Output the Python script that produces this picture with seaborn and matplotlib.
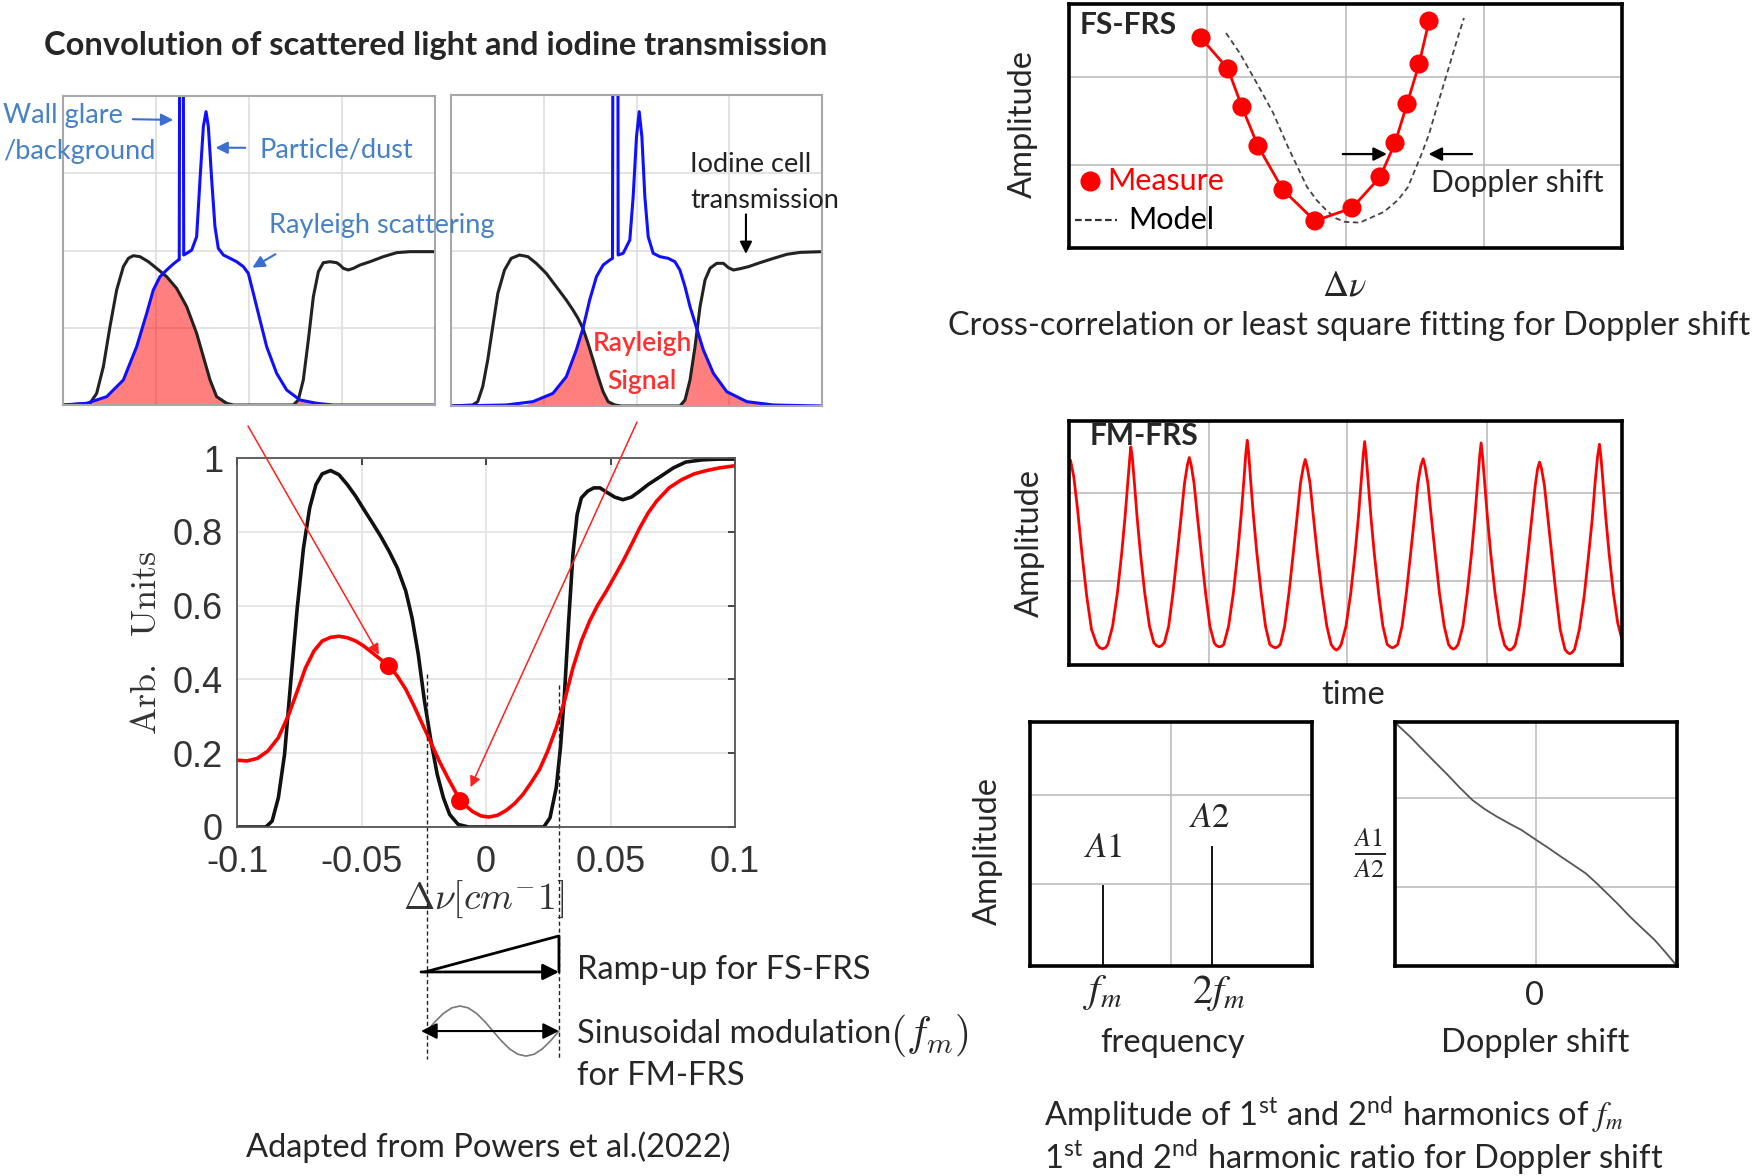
import numpy as np
import matplotlib
matplotlib.use('Agg')
import matplotlib.pyplot as plt
import seaborn as sns

# ---------------- data ----------------
# top-left panel (Rayleigh line centred left of the iodine notch), arbitrary units 0..4
p1_iod_x = [0.0, 0.022, 0.290, 0.362, 0.434, 0.505, 0.577, 0.649, 0.703, 0.756, 0.828, 0.918, 1.007,
            1.115, 1.222, 1.330, 1.437, 1.509, 1.581, 1.652, 1.760, 1.832, 2.477, 2.530, 2.584, 2.638,
            2.692, 2.746, 2.799, 2.871, 2.943, 2.978, 3.014, 3.068, 3.122, 3.194, 3.301, 3.444, 3.588,
            3.731, 4.0]
p1_iod_y = [0.0, 0.0, 0.022, 0.151, 0.496, 1.014, 1.489, 1.791, 1.899, 1.933, 1.920, 1.855, 1.769,
            1.661, 1.510, 1.273, 0.928, 0.626, 0.324, 0.108, 0.022, 0.0, 0.0, 0.065, 0.324, 0.841,
            1.402, 1.726, 1.842, 1.855, 1.842, 1.812, 1.769, 1.748, 1.769, 1.812, 1.855, 1.920, 1.972,
            1.985, 1.985]
p1_scat_x = [0.0, 0.254, 0.470, 0.649, 0.792, 0.900, 0.971, 1.043, 1.115, 1.186, 1.240, 1.250, 1.254,
             1.294, 1.298, 1.330, 1.384, 1.437, 1.473, 1.509, 1.538, 1.563, 1.599, 1.634, 1.670, 1.724,
             1.796, 1.867, 1.939, 1.993, 2.047, 2.118, 2.190, 2.297, 2.405, 2.548, 2.728, 2.907, 4.0]
p1_scat_y = [0.0, 0.022, 0.108, 0.324, 0.755, 1.187, 1.489, 1.661, 1.748, 1.825, 1.877, 1.880, 4.4,
             4.4, 1.942, 1.963, 2.006, 2.179, 2.913, 3.603, 3.797, 3.603, 2.913, 2.308, 2.028, 1.942,
             1.899, 1.855, 1.791, 1.704, 1.445, 1.100, 0.755, 0.410, 0.194, 0.065, 0.022, 0.0, 0.0]
p1_sig_x = [0.20, 0.254, 0.470, 0.649, 0.792, 0.900, 0.971, 1.043, 1.080, 1.222, 1.330, 1.437, 1.509,
            1.581, 1.652, 1.760, 1.900, 2.450, 2.530, 2.580, 2.650, 2.750, 2.850]
p1_sig_y = [0.0, 0.020, 0.100, 0.320, 0.750, 1.187, 1.489, 1.661, 1.700, 1.510, 1.273, 0.928, 0.626,
            0.324, 0.108, 0.022, 0.0, 0.0, 0.050, 0.060, 0.040, 0.020, 0.0]

# top-middle panel (Rayleigh line centred on the iodine notch)
p2_iod_x = [0.0, 0.234, 0.288, 0.342, 0.396, 0.450, 0.505, 0.577, 0.649, 0.739, 0.829, 0.919, 1.027,
            1.135, 1.243, 1.315, 1.369, 1.423, 1.477, 1.532, 1.586, 1.640, 1.694, 1.766, 1.838, 2.468,
            2.523, 2.577, 2.631, 2.685, 2.739, 2.793, 2.865, 2.937, 2.991, 3.045, 3.117, 3.207, 3.333,
            3.477, 3.622, 3.766, 4.0]
p2_iod_y = [0.0, 0.013, 0.056, 0.249, 0.592, 1.020, 1.449, 1.749, 1.899, 1.942, 1.921, 1.835, 1.706,
            1.535, 1.363, 1.235, 1.128, 0.999, 0.806, 0.592, 0.377, 0.184, 0.056, 0.013, 0.0, 0.0,
            0.077, 0.334, 0.763, 1.278, 1.621, 1.771, 1.835, 1.835, 1.779, 1.749, 1.766, 1.792, 1.844,
            1.899, 1.951, 1.976, 1.985]
p2_scat_x = [0.0, 0.595, 0.883, 1.099, 1.243, 1.351, 1.423, 1.495, 1.568, 1.640, 1.712, 1.741, 1.745,
             1.800, 1.802, 1.856, 1.928, 1.964, 2.000, 2.029, 2.058, 2.090, 2.126, 2.180, 2.252, 2.342,
             2.414, 2.468, 2.523, 2.577, 2.649, 2.721, 2.829, 2.973, 3.189, 3.477, 4.0]
p2_scat_y = [0.0, 0.013, 0.056, 0.163, 0.377, 0.720, 0.999, 1.363, 1.663, 1.813, 1.878, 1.899, 4.4,
             4.4, 1.942, 1.964, 2.135, 2.692, 3.464, 3.786, 3.464, 2.692, 2.178, 1.964, 1.921, 1.899,
             1.856, 1.749, 1.535, 1.278, 0.999, 0.720, 0.420, 0.184, 0.056, 0.013, 0.0]
p2_sig_left_x = [0.75, 0.883, 1.099, 1.243, 1.351, 1.423, 1.477, 1.532, 1.586, 1.640, 1.694, 1.766, 1.84]
p2_sig_left_y = [0.0, 0.050, 0.163, 0.377, 0.720, 0.999, 0.806, 0.592, 0.377, 0.184, 0.056, 0.013, 0.0]
p2_sig_right_x = [2.47, 2.523, 2.577, 2.631, 2.655, 2.721, 2.829, 2.973, 3.189, 3.477, 3.6]
p2_sig_right_y = [0.0, 0.077, 0.334, 0.763, 0.990, 0.720, 0.420, 0.184, 0.056, 0.013, 0.0]

# main panel: iodine transmission and convolved Rayleigh signal vs detuning [cm^-1]
nu_iod = [-0.100, -0.0884, -0.0859, -0.0834, -0.0809, -0.0784, -0.0758, -0.0733, -0.0708, -0.0683,
          -0.0658, -0.0624, -0.0591, -0.0557, -0.0523, -0.0490, -0.0456, -0.0423, -0.0389, -0.0356,
          -0.0322, -0.0297, -0.0272, -0.0247, -0.0221, -0.0196, -0.0171, -0.0146, -0.0112, -0.0070,
          0.0232, 0.0257, 0.0282, 0.0299, 0.0315, 0.0332, 0.0349, 0.0366, 0.0383, 0.0408,
          0.0433, 0.0458, 0.0483, 0.0517, 0.0550, 0.0584, 0.0617, 0.0651, 0.0701, 0.0752,
          0.0802, 0.0869, 0.0936, 0.100]
tr_iod = [0, 0, 0.016, 0.079, 0.197, 0.395, 0.594, 0.756, 0.865, 0.928,
          0.957, 0.966, 0.955, 0.928, 0.896, 0.860, 0.824, 0.788, 0.747, 0.702,
          0.639, 0.567, 0.468, 0.341, 0.233, 0.143, 0.079, 0.034, 0.007, 0,
          0, 0.025, 0.106, 0.215, 0.359, 0.558, 0.738, 0.847, 0.892, 0.910,
          0.919, 0.919, 0.908, 0.894, 0.887, 0.894, 0.910, 0.928, 0.950, 0.973,
          0.989, 0.995, 0.997, 0.997]
nu_conv = [-0.100, -0.0960, -0.0918, -0.0876, -0.0834, -0.0792, -0.0758, -0.0725, -0.0691, -0.0658,
           -0.0624, -0.0591, -0.0557, -0.0523, -0.0490, -0.0456, -0.0423, -0.0389, -0.0356, -0.0322,
           -0.0289, -0.0255, -0.0221, -0.0188, -0.0154, -0.0121, -0.0087, -0.0054, -0.0020, 0.0013,
           0.0047, 0.0081, 0.0114, 0.0148, 0.0181, 0.0215, 0.0248, 0.0282, 0.0315, 0.0349,
           0.0383, 0.0416, 0.0450, 0.0483, 0.0517, 0.0550, 0.0584, 0.0617, 0.0651, 0.0685,
           0.0735, 0.0785, 0.0836, 0.0886, 0.0936, 0.100]
sig_conv = [0.181, 0.179, 0.186, 0.206, 0.242, 0.305, 0.368, 0.431, 0.477, 0.504,
            0.514, 0.517, 0.513, 0.504, 0.490, 0.472, 0.454, 0.436, 0.409, 0.373,
            0.328, 0.278, 0.228, 0.179, 0.134, 0.093, 0.061, 0.042, 0.030, 0.027,
            0.032, 0.045, 0.063, 0.088, 0.120, 0.156, 0.206, 0.269, 0.341, 0.431,
            0.504, 0.558, 0.603, 0.639, 0.680, 0.720, 0.765, 0.810, 0.851, 0.883,
            0.919, 0.941, 0.957, 0.966, 0.973, 0.979]
dot_nu = [-0.039, -0.0104]
dot_sig = [0.436, 0.070]
scan_lo, scan_hi = -0.0237, 0.0293           # laser scan range (dashed lines)
sine_shape = [0, 0.383, 0.707, 0.924, 1, 0.924, 0.707, 0.383, 0,
              -0.383, -0.707, -0.924, -1, -0.924, -0.707, -0.383, 0]

# FS-FRS: measured points and model line
fs_meas_x = [0.955, 1.150, 1.251, 1.367, 1.548, 1.779, 2.047, 2.250, 2.358, 2.445, 2.532, 2.604]
fs_meas_y = [0.861, 0.734, 0.578, 0.418, 0.238, 0.111, 0.164, 0.291, 0.430, 0.590, 0.754, 0.930]
fs_model_x = [1.136, 1.236, 1.374, 1.478, 1.584, 1.722, 1.790, 1.859, 1.929, 1.996,
              2.103, 2.278, 2.380, 2.452, 2.553, 2.606, 2.655, 2.763, 2.814, 2.857]
fs_model_y = [0.881, 0.798, 0.660, 0.552, 0.414, 0.250, 0.197, 0.156, 0.122, 0.107,
              0.104, 0.148, 0.197, 0.250, 0.389, 0.470, 0.566, 0.770, 0.866, 0.943]

# FM-FRS time signal (arbitrary units)
fm_t = [148, 155, 163, 172, 182, 192, 203, 209, 215,
        221, 226, 236, 246, 255, 262, 268, 272, 274, 277, 281, 287, 294, 303, 313, 322, 328, 333,
        338, 344, 353, 362, 371, 379, 386, 392, 396, 400, 406, 413, 421, 430, 439, 448, 453, 458,
        463, 468, 478, 488, 497, 504, 510, 514, 517, 520, 524, 530, 537, 546, 555, 564, 570, 575,
        580, 586, 595, 604, 613, 621, 628, 634, 638, 642, 648, 655, 663, 673, 683, 692, 698, 703,
        708, 713, 723, 733, 742, 749, 755, 759, 762, 765, 769, 775, 782, 791, 800, 809, 815, 820,
        825, 831, 840, 849, 858, 866, 873, 879, 884, 888, 894, 901, 909, 918, 928, 937, 942, 947,
        952, 957, 967, 976, 985, 992, 998, 1002, 1005, 1008, 1012, 1018, 1025, 1034, 1044, 1054, 1060, 1065,
        1070, 1076, 1085, 1094, 1103, 1111, 1118, 1123, 1127, 1131, 1137, 1144, 1152, 1161, 1170, 1180, 1185, 1190,
        1195, 1200, 1210, 1220, 1229, 1237, 1243, 1248, 1252, 1255, 1259, 1265, 1272, 1281, 1290, 1298]
fm_a = [617, 567, 467, 337, 207, 107, 62, 52, 49,
        52, 62, 117, 217, 337, 447, 557, 627, 657, 627, 557, 447, 337, 217, 117, 67, 58, 55,
        58, 67, 117, 217, 337, 447, 547, 602, 625, 602, 547, 447, 337, 217, 117, 67, 58, 55,
        56, 62, 117, 217, 337, 447, 557, 637, 677, 637, 557, 447, 337, 217, 117, 62, 55, 52,
        54, 62, 117, 217, 337, 447, 547, 597, 619, 597, 547, 447, 337, 217, 117, 62, 50, 45,
        50, 62, 117, 217, 337, 447, 557, 632, 673, 632, 557, 447, 337, 217, 117, 62, 55, 52,
        55, 62, 117, 217, 337, 447, 547, 599, 621, 599, 547, 447, 337, 217, 117, 62, 52, 48,
        52, 62, 117, 217, 337, 447, 557, 629, 669, 629, 557, 447, 337, 217, 117, 60, 49, 45,
        49, 60, 117, 217, 337, 447, 542, 592, 611, 592, 542, 447, 337, 217, 107, 47, 38, 34,
        38, 47, 107, 207, 327, 442, 552, 627, 665, 627, 557, 447, 337, 217, 127, 82]

# harmonics spectrum and harmonic ratio
harm_x = [0.26, 0.647]
harm_amp = [0.33, 0.49]
harm_ticks = [r'$f_m$', r'$2f_m$']
ratio_x = [-1.0, -0.975, -0.888, -0.801, -0.714, -0.626, -0.539, -0.451, -0.364, -0.277, -0.190,
           -0.102, 0.003, 0.090, 0.177, 0.265, 0.352, 0.421, 0.491, 0.579, 0.667, 0.754, 0.841, 0.920, 1.0]
ratio_y = [1.0, 0.984, 0.937, 0.885, 0.834, 0.783, 0.730, 0.680, 0.643, 0.612, 0.584,
           0.557, 0.516, 0.483, 0.448, 0.414, 0.380, 0.344, 0.305, 0.255, 0.202, 0.154, 0.107, 0.055, 0.0]

# ---------------- figure ----------------
sns.set_theme(style='white')
plt.rcParams['font.family'] = ['Lato', 'DejaVu Sans']
plt.rcParams['mathtext.fontset'] = 'custom'
plt.rcParams['mathtext.rm'] = 'Lato'
plt.rcParams['mathtext.it'] = 'STIXGeneral:italic'
plt.rcParams['mathtext.bf'] = 'Lato:bold'

W, H = 1752, 1176
fig = plt.figure(figsize=(W / 100, H / 100), dpi=100)
fig.patch.set_facecolor('white')

BLUE_TXT = '#4681c6'
TXT = 23.5


def box_axes(x0, y0, x1, y1):
    return fig.add_axes([x0 / W, 1 - y1 / H, (x1 - x0) / W, (y1 - y0) / H])


def ftext(x, y, s, **kw):
    kw.setdefault('ha', 'left')
    kw.setdefault('va', 'center')
    return fig.text(x / W, 1 - y / H, s, **kw)


def frame(ax, xg, yg, edge, lw, gcol):
    ax.set_xticks(xg)
    ax.set_yticks(yg)
    ax.tick_params(length=0, labelbottom=False, labelleft=False)
    ax.grid(True, color=gcol, lw=1.2)
    ax.set_axisbelow(True)
    for s in ax.spines.values():
        s.set_visible(True)
        s.set_color(edge)
        s.set_linewidth(lw)


# --- top-left spectra ---
ax1 = box_axes(63, 96, 435, 405)
ax2 = box_axes(451, 95, 822, 406)
for ax, ix, iy, sx, sy in [(ax1, p1_iod_x, p1_iod_y, p1_scat_x, p1_scat_y),
                           (ax2, p2_iod_x, p2_iod_y, p2_scat_x, p2_scat_y)]:
    sns.lineplot(x=ix, y=iy, ax=ax, color='#222222', lw=2.2, sort=False, estimator=None)
    sns.lineplot(x=sx, y=sy, ax=ax, color='#1010ff', lw=2.2, sort=False, estimator=None)
    ax.set_xlim(0, 4)
    ax.set_ylim(0, 4)
    frame(ax, [1, 2, 3], [1, 2, 3], '#a8a8a8', 1.5, '#dedede')
ax1.fill_between(p1_sig_x, 0, p1_sig_y, color='red', alpha=0.5, lw=0)
ax2.fill_between(p2_sig_left_x, 0, p2_sig_left_y, color='red', alpha=0.5, lw=0)
ax2.fill_between(p2_sig_right_x, 0, p2_sig_right_y, color='red', alpha=0.5, lw=0)

blue_arrow = dict(arrowstyle='-|>', color='#3a6fd0', lw=1.5, mutation_scale=18)
ax1.annotate('', xy=(1.215, 3.69), xytext=(0.72, 3.70), arrowprops=blue_arrow, annotation_clip=False)
ax1.annotate('', xy=(1.61, 3.33), xytext=(1.99, 3.33), arrowprops=blue_arrow, annotation_clip=False)
ax1.annotate('', xy=(2.01, 1.76), xytext=(2.31, 1.97), arrowprops=blue_arrow, annotation_clip=False)
ax2.annotate('', xy=(3.18, 1.92), xytext=(3.18, 2.50),
             arrowprops=dict(arrowstyle='-|>', color='black', lw=1.5, mutation_scale=18))

ftext(436, 46, 'Convolution of scattered light and iodine transmission', ha='center',
      weight='bold', size=23.5)
ftext(3, 115, 'Wall glare', color=BLUE_TXT, size=19.5)
ftext(3, 151, '/background', color=BLUE_TXT, size=19.5)
ftext(259, 150, 'Particle/dust', color=BLUE_TXT, size=19.5)
ftext(269, 226, 'Rayleigh scattering', color=BLUE_TXT, size=19.5)
ftext(690, 165, 'Iodine cell', color='#222222', size=19.5)
ftext(690, 201, 'transmission', color='#222222', size=19.5)
ftext(642, 344, 'Rayleigh', ha='center', color='#ff3030', size=19, weight='semibold')
ftext(642, 381, 'Signal', ha='center', color='#ff3030', size=19, weight='semibold')

# --- main convolution panel ---
axm = box_axes(237, 458, 735, 827)
sns.lineplot(x=nu_iod, y=tr_iod, ax=axm, color='#111111', lw=2.6, sort=False, estimator=None)
sns.lineplot(x=nu_conv, y=sig_conv, ax=axm, color='#ff0000', lw=2.6, sort=False, estimator=None)
sns.scatterplot(x=dot_nu, y=dot_sig, ax=axm, color='#ff0000', s=170, edgecolor='none', zorder=5)
axm.set_xlim(-0.1, 0.1)
axm.set_ylim(0, 1)
axm.set_xticks([-0.1, -0.05, 0, 0.05, 0.1])
axm.set_xticklabels(['-0.1', '-0.05', '0', '0.05', '0.1'])
axm.set_yticks([0, 0.2, 0.4, 0.6, 0.8, 1])
axm.set_yticklabels(['0', '0.2', '0.4', '0.6', '0.8', '1'])
axm.grid(True, color='#e2e2e2', lw=1.2)
axm.set_axisbelow(True)
axm.tick_params(direction='in', length=5, top=True, right=True, labelsize=26,
                colors='#333333', pad=10)
axm.tick_params(axis='x', pad=13)
for lab in axm.get_xticklabels() + axm.get_yticklabels():
    lab.set_family('Liberation Sans')
for s in axm.spines.values():
    s.set_visible(True)
    s.set_color('#555555')
    s.set_linewidth(1.3)
axm.set_xlabel(r'$\Delta\nu[cm^{-}1]$', fontsize=27, math_fontfamily='cm', color='#333333')
axm.xaxis.set_label_coords(0.495, -(899 - 827) / 369)
axm.xaxis.label.set_va('center')
axm.set_ylabel(r'$\mathrm{Arb.\ \ Units}$', fontsize=26, math_fontfamily='cm', color='#333333')
axm.yaxis.set_label_coords(-(237 - 145) / 498, 0.5)
axm.yaxis.label.set_va('center')

for lo_y, xv in [(0.415, scan_lo), (0.385, scan_hi)]:
    axm.plot([xv, xv], [lo_y, -0.63], ls=(0, (3, 2)), color='#222222', lw=1.0, clip_on=False)

red_arrow = dict(arrowstyle='-|>', color='#ff2020', lw=1.1, mutation_scale=16, shrinkA=0, shrinkB=0)
axm.annotate('', xy=(-0.043, 0.467), xytext=(248 / W, 1 - 426 / H), textcoords='figure fraction',
             arrowprops=red_arrow, annotation_clip=False, zorder=6)
axm.annotate('', xy=(-0.0062, 0.108), xytext=(637 / W, 1 - 422 / H), textcoords='figure fraction',
             arrowprops=red_arrow, annotation_clip=False, zorder=6)

# ramp / sinusoidal scan sketch under the main panel
axr = box_axes(237, 925, 735, 1075)
axr.set_xlim(-0.1, 0.1)
axr.set_ylim(0, 1)
axr.axis('off')
axr.annotate('', xy=(scan_hi, 0.687), xytext=(scan_lo - 0.0024, 0.687),
             arrowprops=dict(arrowstyle='-|>', color='black', lw=2, mutation_scale=24, shrinkA=0, shrinkB=0))
axr.plot([scan_lo - 0.0008, scan_hi, scan_hi], [0.687, 0.927, 0.687], color='black', lw=2)
sine_x = np.linspace(scan_lo, scan_hi, len(sine_shape))
axr.plot(sine_x, 0.293 + 0.167 * np.array(sine_shape), color='#777777', lw=1.2)
axr.annotate('', xy=(scan_hi, 0.293), xytext=(scan_lo - 0.0024, 0.293),
             arrowprops=dict(arrowstyle='<|-|>', color='black', lw=1.5, mutation_scale=24, shrinkA=0, shrinkB=0))

ftext(577, 970, 'Ramp-up for FS-FRS', size=TXT)
sin_txt = ftext(577, 1034, 'Sinusoidal modulation', size=TXT)
axr.annotate(r'$(f_m)$', xy=(1, 0.45), xycoords=sin_txt, xytext=(-1, 0),
             textcoords='offset points', ha='left', va='center', size=30,
             math_fontfamily='cm', annotation_clip=False)
ftext(577, 1076, 'for FM-FRS', size=TXT)
ftext(488, 1147, 'Adapted from Powers et al.(2022)', ha='center', size=TXT)

# --- FS-FRS panel ---
axfs = box_axes(1069, 4, 1622, 248)
sns.lineplot(x=fs_model_x, y=fs_model_y, ax=axfs, color='#444444', lw=1.3, ls=(0, (3, 2)),
             sort=False, estimator=None)
sns.lineplot(x=fs_meas_x, y=fs_meas_y, ax=axfs, color='#ff0000', lw=2, sort=False, estimator=None)
sns.scatterplot(x=fs_meas_x, y=fs_meas_y, ax=axfs, color='#ff0000', s=190, edgecolor='none', zorder=5)
axfs.set_xlim(0, 4)
axfs.set_ylim(0, 1)
frame(axfs, [1, 2, 3], [0.34, 0.70], 'black', 2.6, '#bdbdbd')
k_arrow = dict(arrowstyle='-|>', color='black', lw=1.6, mutation_scale=20, shrinkA=0, shrinkB=0)
axfs.annotate('', xy=(2.30, 0.385), xytext=(1.98, 0.385), arrowprops=k_arrow)
axfs.annotate('', xy=(2.60, 0.385), xytext=(2.915, 0.385), arrowprops=k_arrow)
# hand-made key, as in the sketch
axfs.plot([0.038], [0.275], 'o', color='#ff0000', ms=13.5, transform=axfs.transAxes, clip_on=False)
axfs.text(0.069, 0.275, 'Measure', color='#ff0000', size=22, va='center', transform=axfs.transAxes)
axfs.plot([0.011, 0.087], [0.115, 0.115], ls=(0, (3, 1.5)), color='#333333', lw=1.6,
          transform=axfs.transAxes)
axfs.text(0.108, 0.115, 'Model', color='black', size=22, va='center', transform=axfs.transAxes)
ftext(1080, 25, 'FS-FRS', weight='bold', size=21.5)
ftext(1431, 183, 'Doppler shift', size=21.5)
ftext(1023, 124, 'Amplitude', rotation=90, ha='center', size=23.5)
ftext(1344, 285, r'$\Delta\nu$', ha='center', size=26, math_fontfamily='stix')
ftext(1349, 326, 'Cross-correlation or least square fitting for Doppler shift', ha='center', size=23.3)

# --- FM-FRS panel ---
axfm = box_axes(1069, 421, 1622, 665)
sns.lineplot(x=fm_t, y=fm_a, ax=axfm, color='#ff0000', lw=2, sort=False, estimator=None)
axfm.set_xlim(145, 1299)
axfm.set_ylim(0, 735)
frame(axfm, [437, 726, 1018], [254, 517], 'black', 2.6, '#bdbdbd')
ftext(1090, 436, 'FM-FRS', weight='bold', size=21.5)
ftext(1030, 543, 'Amplitude', rotation=90, ha='center', size=23.5)
ftext(1353, 695, 'time', ha='center', size=23.5)

# --- harmonic amplitudes ---
axa = box_axes(1030, 722, 1312, 966)
axa.vlines(harm_x, 0, harm_amp, color='black', lw=1.3)
axa.set_xlim(0, 1)
axa.set_ylim(0, 1)
frame(axa, [0.5], [0.336, 0.70], 'black', 2.6, '#bdbdbd')
ftext(988, 851, 'Amplitude', rotation=90, ha='center', size=23.5)
ftext(1103, 847, r'$A1$', ha='center', size=25, math_fontfamily='stix')
ftext(1210, 817, r'$A2$', ha='center', size=25, math_fontfamily='stix')
ftext(1103, 993, harm_ticks[0], ha='center', size=29, math_fontfamily='stix')
ftext(1219, 993, harm_ticks[1], ha='center', size=29, math_fontfamily='stix')
ftext(1173, 1043, 'frequency', ha='center', size=23.5)

# --- harmonic ratio ---
axq = box_axes(1395, 722, 1677, 966)
sns.lineplot(x=ratio_x, y=ratio_y, ax=axq, color='#555555', lw=1.3, sort=False, estimator=None)
axq.set_xlim(-1, 1)
axq.set_ylim(0, 1)
frame(axq, [0], [0.325, 0.69], 'black', 2.6, '#bdbdbd')
ftext(1369, 853, r'$\frac{A1}{A2}$', ha='center', size=27, math_fontfamily='stix')
ftext(1535, 996, '0', ha='center', size=23.5)
ftext(1535, 1043, 'Doppler shift', ha='center', size=23.5)

ftext(1044, 1115, r'Amplitude of 1$^{\mathrm{st}}$ and 2$^{\mathrm{nd}}$ harmonics of $f_m$', size=23.5)
ftext(1044, 1157, r'1$^{\mathrm{st}}$ and 2$^{\mathrm{nd}}$ harmonic ratio for Doppler shift', size=23.5)

fig.savefig('out.png', dpi=100)
